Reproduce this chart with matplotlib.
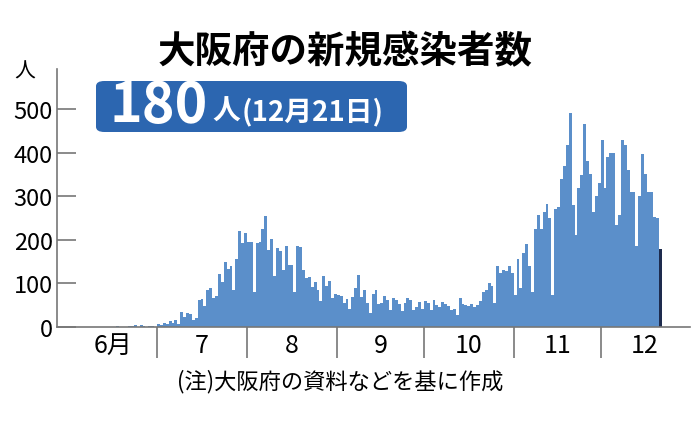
import numpy as np
import matplotlib.pyplot as plt
from matplotlib.patches import FancyBboxPatch

plt.rcParams['font.family'] = ['Noto Sans CJK JP', 'DejaVu Sans']

# --- 日別の新規感染者数（6/1〜12/21） ---
junio = [0, 0, 0, 1, 0, 0, 1, 0, 0, 0, 0, 0, 0, 0, 1, 0, 2, 0, 0, 1,
         3, 2, 4, 1, 5, 2, 1, 2, 3, 1]
julio = [7, 5, 9, 7, 13, 10, 16, 8, 34, 22, 32, 30, 17, 20, 61, 64, 49, 86, 89, 67,
         72, 121, 104, 149, 132, 141, 85, 155, 221, 192, 216]
agosto = [195, 194, 81, 193, 196, 225, 255, 177, 203, 118, 182, 174, 131, 186, 142, 142,
          81, 187, 184, 130, 112, 115, 92, 103, 85, 60, 118, 93, 105, 67, 75]
septiembre = [74, 71, 55, 64, 41, 69, 89, 120, 68, 86, 56, 33, 75, 86, 53, 56, 72, 61,
              38, 66, 62, 53, 37, 54, 67, 62, 40, 45, 57, 42]
octubre = [60, 55, 40, 62, 50, 45, 58, 52, 48, 40, 42, 27, 67, 52, 50, 48, 53, 47, 50, 60,
           80, 85, 100, 95, 55, 141, 124, 130, 128, 141, 124]
noviembre = [73, 155, 90, 170, 190, 140, 80, 225, 256, 225, 264, 283, 250, 73, 270, 275,
             340, 370, 417, 490, 280, 210, 320, 348, 466, 382, 350, 264, 300, 330]
diciembre = [428, 318, 390, 400, 400, 233, 256, 428, 417, 360, 310, 310, 187, 300, 398,
             352, 310, 310, 252, 250, 180]

casos = junio + julio + agosto + septiembre + octubre + noviembre + diciembre
dias = np.arange(len(casos))

limites_mes = [30, 61, 92, 122, 153, 183]
etiquetas_mes = ['6月', '7', '8', '9', '10', '11', '12']
centros_mes = [15, 45.5, 76.5, 107, 137.5, 168, 198]

azul = '#5b8fca'
azul_oscuro = '#1e2b4d'
gris = '#777777'

fig = plt.figure(figsize=(6.96, 4.31), dpi=100)
ax = fig.add_axes([57 / 696, 103 / 431, 633 / 696, 258 / 431])

colores = [azul] * (len(casos) - 1) + [azul_oscuro]
ax.bar(dias + 0.5, casos, width=1.0, color=colores, linewidth=0)

ax.set_xlim(-4.5, 213.8)
ax.set_ylim(0, 592)

for s in ['top', 'right']:
    ax.spines[s].set_visible(False)
for s in ['left', 'bottom']:
    ax.spines[s].set_color(gris)
    ax.spines[s].set_linewidth(1.2)

ax.set_yticks([0, 100, 200, 300, 400, 500])
ax.tick_params(axis='y', direction='in', length=14, width=1.2, color=gris,
               labelsize=17, pad=3)

ax.set_xticks(limites_mes)
ax.set_xticklabels([])
ax.tick_params(axis='x', direction='out', length=22, width=1.2, color=gris)
for c, lab in zip(centros_mes, etiquetas_mes):
    ax.text(c, -12, lab, ha='center', va='top', fontsize=18)

fig.text(25 / 696, 1 - 72 / 431, '人', ha='center', va='center', fontsize=15)

fig.text(345 / 696, 1 - 52 / 431, '大阪府の新規感染者数', ha='center', va='center',
         fontsize=27, fontweight='bold')

caja = FancyBboxPatch((96 / 696, 1 - 133 / 431), 311 / 696, 51 / 431,
                      boxstyle='round,pad=0,rounding_size=0.012',
                      transform=fig.transFigure, facecolor='#2c66b0',
                      edgecolor='none')
fig.patches.append(caja)
fig.text(110 / 696, 1 - 106 / 431, '180', ha='left', va='center', fontsize=40,
         fontweight='bold', color='white')
fig.text(212 / 696, 1 - 112 / 431, '人', ha='left', va='center',
         fontsize=20, fontweight='bold', color='white')
fig.text(242 / 696, 1 - 112 / 431, '(12月21日)', ha='left', va='center',
         fontsize=20, fontweight='bold', color='white')

fig.text(340 / 696, 1 - 382 / 431, '(注)大阪府の資料などを基に作成', ha='center',
         va='center', fontsize=16)

fig.savefig('out.png', dpi=100)
